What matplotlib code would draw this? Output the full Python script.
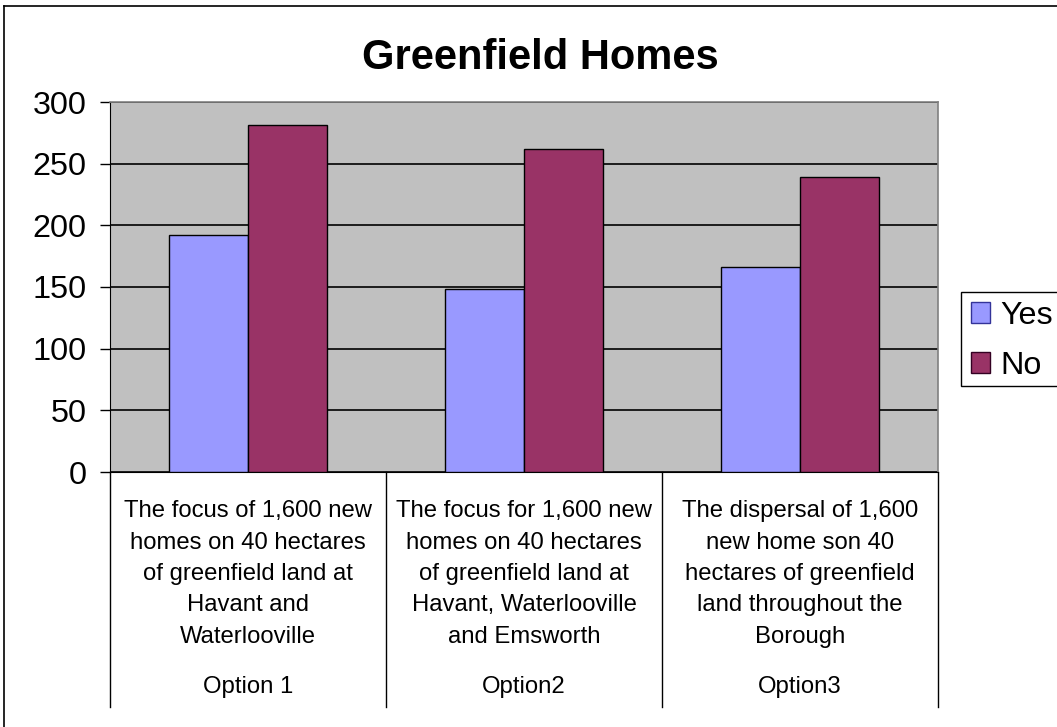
import matplotlib

matplotlib.use("Agg")
import matplotlib.pyplot as plt
from matplotlib.lines import Line2D
from matplotlib.patches import Patch, Rectangle

plt.rcParams["font.family"] = ["Liberation Sans", "DejaVu Sans"]

options = ["Option 1", "Option2", "Option3"]
descriptions = [
    "The focus of 1,600 new\nhomes on 40 hectares\nof greenfield land at\nHavant and\nWaterlooville",
    "The focus for 1,600 new\nhomes on 40 hectares\nof greenfield land at\nHavant, Waterlooville\nand Emsworth",
    "The dispersal of 1,600\nnew home son 40\nhectares of greenfield\nland throughout the\nBorough",
]
yes_votes = [192, 148, 166]
no_votes = [281, 262, 239]
y_ticks = [0, 50, 100, 150, 200, 250, 300]

W, H = 1057, 727
fig = plt.figure(figsize=(W / 100, H / 100), dpi=100)


def fx(px):
    return px / W


def fy(py):
    return 1 - py / H


# outer chart border (right/bottom edges fall outside the image)
fig.add_artist(Line2D([fx(4), fx(4)], [fy(6), 0], color="black", lw=1.2))
fig.add_artist(Line2D([fx(4), 1], [fy(6), fy(6)], color="black", lw=1.2))

left, right, top, bottom = 110, 938, 102, 472
ax = fig.add_axes([fx(left), fy(bottom), fx(right - left), fy(top) - fy(bottom)])
ax.set_facecolor("#C0C0C0")

x = list(range(len(options)))
w = 1 / 3.5
ax.bar([i - w / 2 for i in x], yes_votes, width=w, color="#9999FF",
       edgecolor="black", linewidth=1, zorder=3, label="Yes")
ax.bar([i + w / 2 for i in x], no_votes, width=w, color="#993366",
       edgecolor="black", linewidth=1, zorder=3, label="No")

ax.set_xlim(-0.5, len(options) - 0.5)
ax.set_ylim(0, 300)
ax.set_yticks(y_ticks)
ax.set_yticklabels([str(t) for t in y_ticks], fontsize=23.3)
ax.tick_params(axis="y", direction="out", length=7, width=1, pad=10)
ax.set_xticks([])
ax.yaxis.grid(True, color="black", lw=1.2, zorder=1)
ax.set_axisbelow(True)

for side in ("top", "right"):
    ax.spines[side].set_color("#808080")
    ax.spines[side].set_linewidth(1.2)
ax.spines["left"].set_color("black")
ax.spines["bottom"].set_color("black")

# category label area below the axis
ph = bottom - top
tr = ax.get_xaxis_transform()
for b in [i - 0.5 for i in range(len(options) + 1)]:
    ax.plot([b, b], [0, -(707 - bottom) / ph], color="black", lw=1,
            transform=tr, clip_on=False)
for i, (opt, desc) in enumerate(zip(options, descriptions)):
    ax.text(i, -(574 - bottom) / ph, desc, transform=tr, ha="center",
            va="center", fontsize=17.2, linespacing=1.55)
    ax.text(i, -(687 - bottom) / ph, opt, transform=tr, ha="center",
            va="center", fontsize=17.2)

fig.text(fx(540), fy(58), "Greenfield Homes", ha="center", va="center",
         fontsize=30, fontweight="bold")

# legend box (extends past the right edge)
fig.add_artist(Rectangle((fx(961), fy(386)), fx(120), fy(292) - fy(386),
                         transform=fig.transFigure, facecolor="white",
                         edgecolor="black", lw=1))
handles = [Patch(facecolor="#9999FF", edgecolor="#333399", label="Yes"),
           Patch(facecolor="#993366", edgecolor="#330022", label="No")]
fig.legend(handles=handles, loc="center left",
           bbox_to_anchor=(fx(971), fy(341)), frameon=False, fontsize=23.3,
           handlelength=0.6, handleheight=0.6, handletextpad=0.3,
           labelspacing=0.62, borderpad=0, borderaxespad=0)

fig.savefig("out.png", dpi=100)
